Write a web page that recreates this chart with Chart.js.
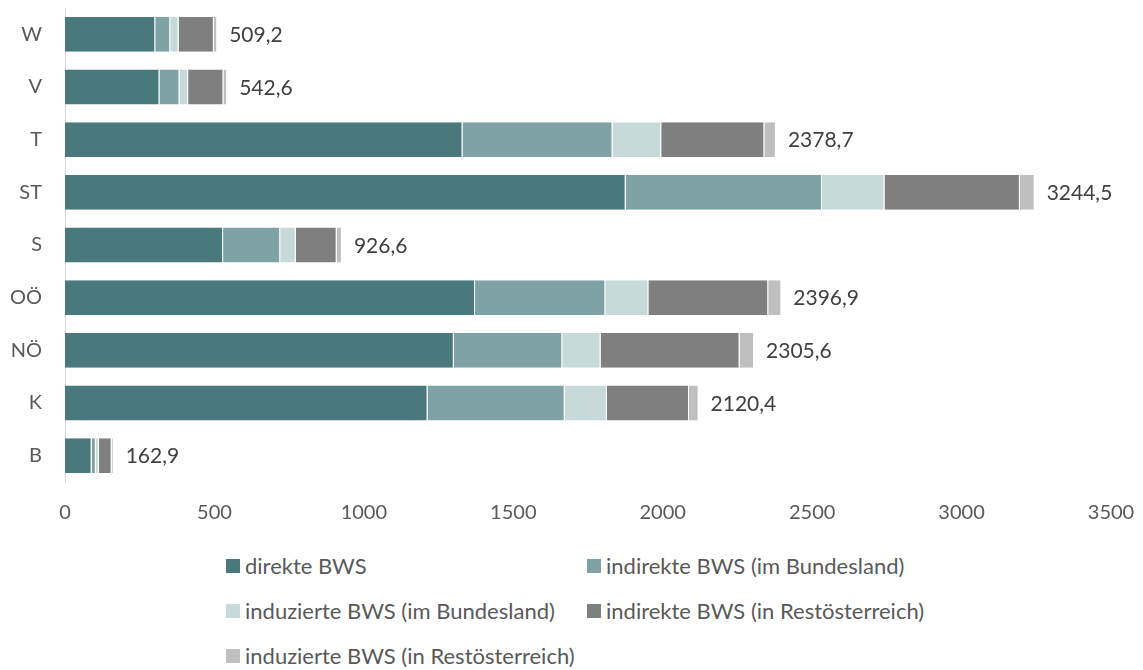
<!DOCTYPE html>
<html>
<head>
<meta charset="utf-8">
<script src="https://cdn.jsdelivr.net/npm/chart.js@4.4.0/dist/chart.umd.min.js"></script>
<style>
  body { margin: 0; background: #fff; font-family: Lato, "Noto Sans", sans-serif; overflow: hidden; }
  #wrap { position: relative; width: 1143px; height: 670px; overflow: hidden; }
  #box { position: absolute; left: 0; top: -27px; width: 1143px; height: 557px; }
  .leg { position: absolute; font-size: 22px; color: #595959; white-space: nowrap; line-height: 24px; }
  .leg span { position: absolute; left: -19px; top: 5px; width: 14px; height: 14px; }
</style>
</head>
<body>
<div id="wrap">
  <div id="box"><canvas id="myBarChart"></canvas></div>
  <div id="legend"></div>
</div>
<script>
// Bundesländer (von oben nach unten)
var regions = ['W', 'V', 'T', 'ST', 'S', 'OÖ', 'NÖ', 'K', 'B'];

var direkt       = [302, 316, 1330, 1876, 529, 1372, 1301, 1213, 89];
var indirektBL   = [50, 67, 502, 657, 191, 436, 363, 459, 14];
var induziertBL  = [28, 29, 163, 209, 52, 144, 128, 141, 10];
var indirektRest = [118, 118, 345, 453, 137, 401, 465, 275, 43];
var induziertRest = [11.2, 12.6, 38.7, 49.5, 17.6, 43.9, 48.6, 32, 6.9];

// Summen am Balkenende
var totals = [509.2, 542.6, 2378.7, 3244.5, 926.6, 2396.9, 2305.6, 2120.4, 162.9];

var xTicks = [0, 500, 1000, 1500, 2000, 2500, 3000, 3500];

var series = [
    { label: 'direkte BWS', data: direkt, color: '#4a797d' },
    { label: 'indirekte BWS (im Bundesland)', data: indirektBL, color: '#7fa3a4' },
    { label: 'induzierte BWS (im Bundesland)', data: induziertBL, color: '#c8d9d9' },
    { label: 'indirekte BWS (in Restösterreich)', data: indirektRest, color: '#7f7f7f' },
    { label: 'induzierte BWS (in Restösterreich)', data: induziertRest, color: '#bfbfbf' }
];

// Werte rechts neben den Balken
var totalLabels = {
    id: 'totalLabels',
    afterDatasetsDraw: function(chart) {
        var c = chart.ctx;
        var last = chart.getDatasetMeta(chart.data.datasets.length - 1);
        c.save();
        c.font = '21px Lato, "Noto Sans", sans-serif';
        c.fillStyle = '#404040';
        c.textBaseline = 'middle';
        c.textAlign = 'left';
        last.data.forEach(function(bar, i) {
            c.fillText(totals[i].toFixed(1).replace('.', ','), bar.x + 12, bar.y + 1);
        });
        c.restore();
    }
};

var ctx = document.getElementById('myBarChart').getContext('2d');
var myBarChart = new Chart(ctx, {
    type: 'bar',
    data: {
        labels: regions,
        datasets: series.map(function(s) {
            return {
                label: s.label,
                data: s.data,
                backgroundColor: s.color,
                borderColor: '#ffffff',
                borderWidth: { left: 0, right: 1, top: 0, bottom: 0 },
                borderSkipped: false,
                barPercentage: 0.66,
                categoryPercentage: 1
            };
        })
    },
    options: {
        indexAxis: 'y',
        responsive: true,
        maintainAspectRatio: false,
        animation: false,
        layout: { padding: { top: -16, right: 32, left: 0, bottom: 0 } },
        plugins: {
            legend: { display: false },
            tooltip: { enabled: false }
        },
        scales: {
            x: {
                stacked: true,
                min: 0,
                max: 3500,
                afterBuildTicks: function(scale) {
                    scale.ticks = xTicks.map(function(v) { return { value: v }; });
                },
                afterFit: function(scale) {
                    scale.height = 48;
                    scale.paddingLeft = 0;
                    scale.paddingRight = 0;
                },
                grid: { display: false, drawTicks: false },
                border: { display: false },
                ticks: {
                    padding: 19,
                    color: '#595959',
                    font: { family: 'Lato, "Noto Sans", sans-serif', size: 20 },
                    callback: function(v) { return String(v); }
                }
            },
            y: {
                stacked: true,
                afterFit: function(scale) { scale.width = 65; },
                grid: { display: false, drawTicks: false },
                border: { display: true, color: '#d9d9d9', width: 1 },
                ticks: {
                    padding: 23,
                    color: '#595959',
                    font: { family: 'Lato, "Noto Sans", sans-serif', size: 20 }
                }
            }
        }
    },
    plugins: [totalLabels]
});

// Legende in zwei Spalten
var legendPos = [[245, 554], [606, 554], [245, 599], [606, 599], [245, 644]];
var legendEl = document.getElementById('legend');
series.forEach(function(s, i) {
    var d = document.createElement('div');
    d.className = 'leg';
    d.style.left = legendPos[i][0] + 'px';
    d.style.top = legendPos[i][1] + 'px';
    d.innerHTML = '<span style="background:' + s.color + '"></span>' + s.label;
    legendEl.appendChild(d);
});
</script>
</body>
</html>
